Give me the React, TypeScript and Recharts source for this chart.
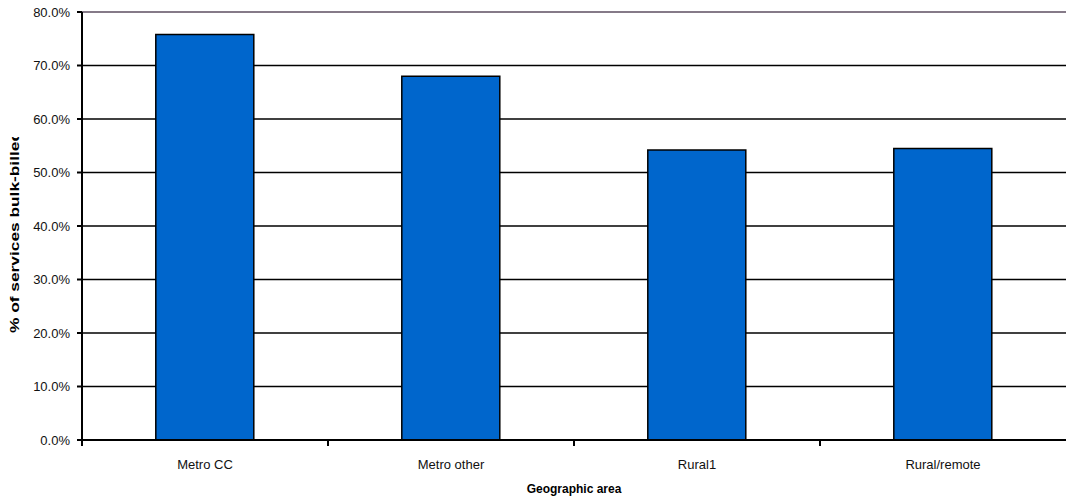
import React from "react";
import { BarChart, Bar, XAxis, YAxis, CartesianGrid, ReferenceLine } from "recharts";

const categories = ["Metro CC", "Metro other", "Rural1", "Rural/remote"];
const bulkBilled = [75.8, 68.0, 54.2, 54.5];
const yTicks = [0, 10, 20, 30, 40, 50, 60, 70, 80];

const data = categories.map((c, i) => ({ area: c, value: bulkBilled[i] }));

const FONT = "'Liberation Sans', Arial, sans-serif";

const XTick = (props: any) => {
  const { x, y, payload } = props;
  const off = payload && payload.offset ? payload.offset : 0;
  return (
    <g>
      <line x1={x - off} y1={y} x2={x - off} y2={y + 6} stroke="#000" strokeWidth={2} />
      <text x={x} y={y + 29} textAnchor="middle" fontFamily={FONT} fontSize={13} fill="#111">
        {payload.value}
      </text>
    </g>
  );
};

const YLabel = (props: any) => {
  const vb = props.viewBox || {};
  const cx = 14;
  const cy = (vb.y || 0) + (vb.height || 0) / 2 + 6;
  return (
    <g>
      <defs>
        <clipPath id="ylabClip">
          <rect x={0} y={137} width={40} height={300} />
        </clipPath>
      </defs>
      <g clipPath="url(#ylabClip)">
        <text
          x={cx}
          y={cy}
          transform={`rotate(-90, ${cx}, ${cy})`}
          textAnchor="middle"
          dominantBaseline="central"
          fontFamily={FONT}
          fontSize={13}
          fontWeight="bold"
          fill="#000"
          textLength={202}
          lengthAdjust="spacingAndGlyphs"
        >
          % of services bulk-billed
        </text>
      </g>
    </g>
  );
};

export default function App() {
  return (
    <div style={{ position: "absolute", left: 0, top: 0, width: 1066, height: 500, background: "#fff" }}>
      <BarChart
        width={1066}
        height={500}
        data={data}
        margin={{ top: 12, right: 0, bottom: 0, left: 0 }}
        barCategoryGap="30%"
      >
        <CartesianGrid horizontal={true} vertical={false} stroke="#000" strokeWidth={1.5} />
        <XAxis
          dataKey="area"
          height={60}
          axisLine={{ stroke: "#000", strokeWidth: 2 }}
          tickLine={false}
          tickSize={0}
          tickMargin={0}
          tick={<XTick />}
          interval={0}
          label={{
            value: "Geographic area",
            position: "insideBottom",
            offset: 7,
            fontFamily: FONT,
            fontSize: 12,
            fontWeight: "bold",
            fill: "#000",
          }}
        />
        <YAxis
          width={82}
          domain={[0, 80]}
          ticks={yTicks}
          interval={0}
          tickFormatter={(v: number) => `${v.toFixed(1)}%`}
          axisLine={{ stroke: "#000", strokeWidth: 2 }}
          tickLine={{ stroke: "#000", strokeWidth: 2 }}
          tickSize={5}
          tickMargin={7}
          tick={{ fontFamily: FONT, fontSize: 13, fill: "#111" }}
          label={<YLabel />}
        />
        <ReferenceLine y={80} stroke="#857a88" strokeWidth={2} />
        <Bar dataKey="value" fill="#0066CC" stroke="#000" strokeWidth={1.5} isAnimationActive={false} />
      </BarChart>
    </div>
  );
}
